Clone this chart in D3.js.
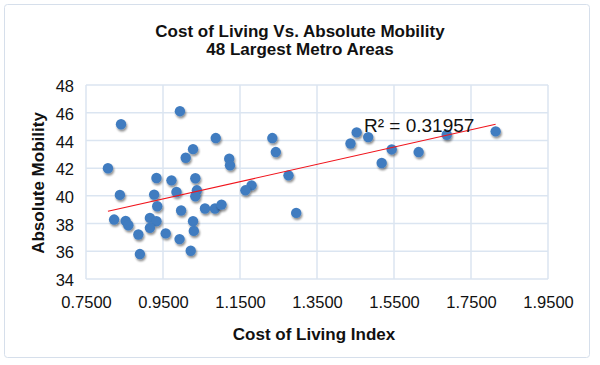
<!DOCTYPE html>
<html><head><meta charset="utf-8">
<script src="https://cdn.jsdelivr.net/npm/d3@7"></script>
<style>
html,body{margin:0;padding:0;background:#fff;}
text{font-family:"Liberation Sans",Arial,Helvetica,sans-serif;}
</style></head>
<body>
<svg id="c" width="600" height="365"></svg>
<script>
const costIndex = [0.994,0.841,1.087,1.028,1.009,1.122,1.124,0.807,0.933,0.972,1.034,0.838,0.927,0.985,1.038,1.034,0.935,0.997,1.059,1.085,1.102,0.823,0.853,0.860,0.916,0.933,0.916,1.028,1.030,0.886,0.957,0.993,1.022,0.890,1.234,1.243,1.276,1.180,1.164,1.296,1.437,1.453,1.483,1.518,1.544,1.614,1.687,1.814];
const mobility = [46.11,45.17,44.17,43.37,42.75,42.68,42.20,41.99,41.29,41.12,41.27,40.07,40.09,40.28,40.40,39.97,39.25,38.94,39.09,39.09,39.37,38.29,38.19,37.88,38.41,38.17,37.69,38.17,37.47,37.21,37.29,36.88,36.04,35.80,44.17,43.16,41.48,40.76,40.40,38.77,43.78,44.58,44.24,42.37,43.35,43.16,44.41,44.65];
const xTicks = [0.75,0.95,1.15,1.35,1.55,1.75,1.95];
const yTicks = [34,36,38,40,42,44,46,48];
const titleLines = ["Cost of Living Vs. Absolute Mobility","48 Largest Metro Areas"];
const xTitle = "Cost of Living Index";
const yTitle = "Absolute Mobility";
const r2Label = "R² = 0.31957";

const svg = d3.select("#c");
svg.append("rect").attr("x",4.5).attr("y",4.5).attr("width",585).attr("height",353)
  .attr("rx",3).attr("fill","#fff").attr("stroke","#d6dfeb").attr("stroke-width",1);

const x = d3.scaleLinear().domain([0.75,1.95]).range([86,548]);
const y = d3.scaleLinear().domain([34,48]).range([279,85]);

const defs = svg.append("defs");
const f = defs.append("filter").attr("id","sh").attr("x","-50%").attr("y","-50%").attr("width","200%").attr("height","200%");
f.append("feGaussianBlur").attr("in","SourceAlpha").attr("stdDeviation",1.2).attr("result","b");
f.append("feOffset").attr("in","b").attr("dx",0.8).attr("dy",1.6).attr("result","o");
f.append("feComponentTransfer").attr("in","o").attr("result","o2").append("feFuncA").attr("type","linear").attr("slope",0.45);
const m = f.append("feMerge"); m.append("feMergeNode").attr("in","o2"); m.append("feMergeNode").attr("in","SourceGraphic");

const grid = "#dbe5f1";
svg.append("g").selectAll("line").data(yTicks).join("line")
  .attr("x1",x(0.75)).attr("x2",x(1.95)).attr("y1",d=>y(d)).attr("y2",d=>y(d))
  .attr("stroke",grid).attr("stroke-width",1.5);
svg.append("g").selectAll("line").data(xTicks).join("line")
  .attr("y1",y(34)).attr("y2",y(48)).attr("x1",d=>x(d)).attr("x2",d=>x(d))
  .attr("stroke",grid).attr("stroke-width",1.5);

const xAxis = d3.axisBottom(x).tickValues(xTicks).tickFormat(d3.format(".4f")).tickSize(0).tickPadding(17);
const gx = svg.append("g").attr("transform",`translate(0,${y(34)})`).call(xAxis);
gx.select(".domain").remove();
gx.selectAll("text").attr("font-size",16.5).attr("fill","#111").attr("font-family","Liberation Sans, Arial, sans-serif");
const yAxis = d3.axisLeft(y).tickValues(yTicks).tickFormat(d3.format("d")).tickSize(0).tickPadding(12);
const gy = svg.append("g").attr("transform",`translate(${x(0.75)},0)`).call(yAxis);
gy.select(".domain").remove();
gy.selectAll("text").attr("font-size",16.5).attr("fill","#111").attr("dy","0.4em").attr("font-family","Liberation Sans, Arial, sans-serif");

const n = costIndex.length;
const mx = d3.mean(costIndex), my = d3.mean(mobility);
let sxy=0, sxx=0;
for(let i=0;i<n;i++){sxy+=(costIndex[i]-mx)*(mobility[i]-my); sxx+=(costIndex[i]-mx)**2;}
const slope = sxy/sxx, icpt = my - slope*mx;
const x0 = d3.min(costIndex), x1 = d3.max(costIndex);

svg.append("g").selectAll("circle").data(costIndex.map((c,i)=>[c,mobility[i]])).join("circle")
  .attr("cx",d=>x(d[0])).attr("cy",d=>y(d[1])).attr("r",5.2)
  .attr("fill","#3f7cc0").attr("filter","url(#sh)");

svg.append("line").attr("x1",x(x0)).attr("x2",x(x1)).attr("y1",y(icpt+slope*x0)).attr("y2",y(icpt+slope*x1))
  .attr("stroke","#f0141c").attr("stroke-width",1.1);

svg.append("text").attr("x",364).attr("y",132).attr("font-size",19).attr("fill","#111").text(r2Label);

svg.append("text").attr("x",300).attr("y",37).attr("text-anchor","middle").attr("font-size",17).attr("font-weight","bold").attr("fill","#111").text(titleLines[0]);
svg.append("text").attr("x",300).attr("y",55).attr("text-anchor","middle").attr("font-size",17).attr("font-weight","bold").attr("fill","#111").text(titleLines[1]);
svg.append("text").attr("x",314).attr("y",340).attr("text-anchor","middle").attr("font-size",17).attr("font-weight","bold").attr("fill","#111").text(xTitle);
svg.append("text").attr("transform","translate(44,183) rotate(-90)").attr("text-anchor","middle").attr("font-size",17).attr("font-weight","bold").attr("fill","#111").text(yTitle);
</script>
</body></html>
